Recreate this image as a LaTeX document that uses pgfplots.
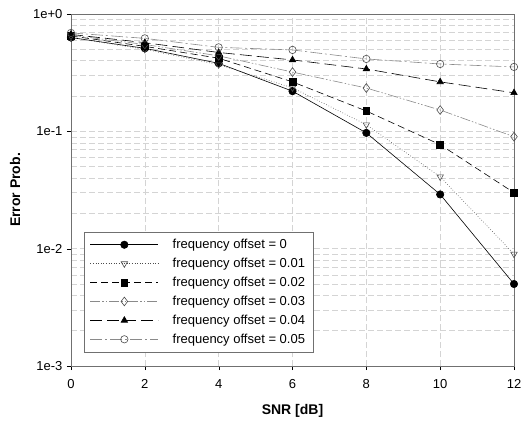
\documentclass[border=0pt]{standalone}
\usepackage{fontspec}
\setmainfont{Liberation Sans}
\usepackage{pgfplots}
\pgfplotsset{compat=1.18}
\usetikzlibrary{calc}
\definecolor{GridGray}{HTML}{D4D4D4}
\definecolor{AxGray}{HTML}{707070}
\definecolor{LineGray}{HTML}{8A8A8A}

\begin{document}
\begin{tikzpicture}
\begin{axis}[
  scale only axis,
  width=443pt,height=352pt,
  ymode=log,
  xmin=0,xmax=12,ymin=1e-3,ymax=1,
  xtick={0,2,...,12},
  ytick={1e-3,1e-2,1e-1,1},
  yticklabels={1e-3,1e-2,1e-1,1e+0},
  minor ytick={2e-3,3e-3,4e-3,5e-3,6e-3,7e-3,8e-3,9e-3,
               2e-2,3e-2,4e-2,5e-2,6e-2,7e-2,8e-2,9e-2,
               2e-1,3e-1,4e-1,5e-1,6e-1,7e-1,8e-1,9e-1},
  /pgf/number format/assume math mode=true,
  xmajorgrids,yminorgrids,ymajorgrids,
  major grid style={GridGray,dash pattern=on 6pt off 3pt},
  minor grid style={GridGray,dash pattern=on 6pt off 3pt},
  axis line style={AxGray},
  tick style={black},
  tick align=outside,
  major tick length=4pt,
  minor tick length=0pt,
  xtick pos=bottom,ytick pos=left,
  tick label style={font=\fontsize{13}{15}\selectfont},
  xticklabel style={yshift=-6pt},
  yticklabel style={xshift=-1pt},
  label style={font=\fontsize{14}{16}\selectfont\bfseries},
  xlabel={SNR [dB]},
  ylabel={Error Prob.},
  xlabel style={yshift=-9pt},
  ylabel style={yshift=6pt},
  every axis plot/.append style={line width=0.6pt},
  mark size=3.7pt,
  legend style={at={(rel axis cs:0.029,0.04)},anchor=south west,
    font=\fontsize{13}{14}\selectfont,draw=AxGray,fill=white,
    row sep=4pt,inner xsep=6pt,inner ysep=5pt,
    cells={anchor=west}},
  legend image code/.code={%
    \draw[mark repeat=2,mark phase=2]
      plot coordinates {(0pt,0pt)(34pt,0pt)(68pt,0pt)};},
]
\coordinate (O) at (rel axis cs:0,0);
\addplot[black,solid,mark=*,mark options={solid,fill=black}]
 coordinates {(0,0.63)(2,0.51)(4,0.38)(6,0.22)(8,0.097)(10,0.029)(12,0.005)};
\addlegendentry{\hspace{12pt}frequency offset = 0}
\addplot[black!70,dotted,mark=triangle,mark options={solid,rotate=180,fill=white,draw=black!70}]
 coordinates {(0,0.63)(2,0.50)(4,0.37)(6,0.235)(8,0.114)(10,0.041)(12,0.009)};
\addlegendentry{\hspace{12pt}frequency offset = 0.01}
\addplot[black,dash pattern=on 7pt off 4pt,mark=square*,mark size=3.4pt,mark options={solid,fill=black}]
 coordinates {(0,0.65)(2,0.53)(4,0.42)(6,0.264)(8,0.149)(10,0.077)(12,0.030)};
\addlegendentry{\hspace{12pt}frequency offset = 0.02}
\addplot[LineGray,dash pattern=on 10pt off 2pt on 1.5pt off 2pt on 1.5pt off 2pt,
  mark=diamond,mark size=4.4pt,mark options={solid,fill=white,draw=black!70}]
 coordinates {(0,0.66)(2,0.55)(4,0.44)(6,0.32)(8,0.234)(10,0.152)(12,0.090)};
\addlegendentry{\hspace{12pt}frequency offset = 0.03}
\addplot[black,dash pattern=on 12pt off 5pt,mark=triangle*,mark options={solid,fill=black}]
 coordinates {(0,0.67)(2,0.57)(4,0.47)(6,0.406)(8,0.34)(10,0.264)(12,0.213)};
\addlegendentry{\hspace{12pt}frequency offset = 0.04}
\addplot[LineGray,dash pattern=on 12pt off 3pt on 2pt off 3pt,
  mark=o,mark options={solid,fill=white,draw=black!70}]
 coordinates {(0,0.69)(2,0.62)(4,0.52)(6,0.494)(8,0.414)(10,0.375)(12,0.354)};
\addlegendentry{\hspace{12pt}frequency offset = 0.05}
\end{axis}
\pgfresetboundingbox
\path[use as bounding box] ($(O)+(-71pt,-60pt)$) rectangle ++(521pt,426pt);
\end{tikzpicture}
\end{document}
